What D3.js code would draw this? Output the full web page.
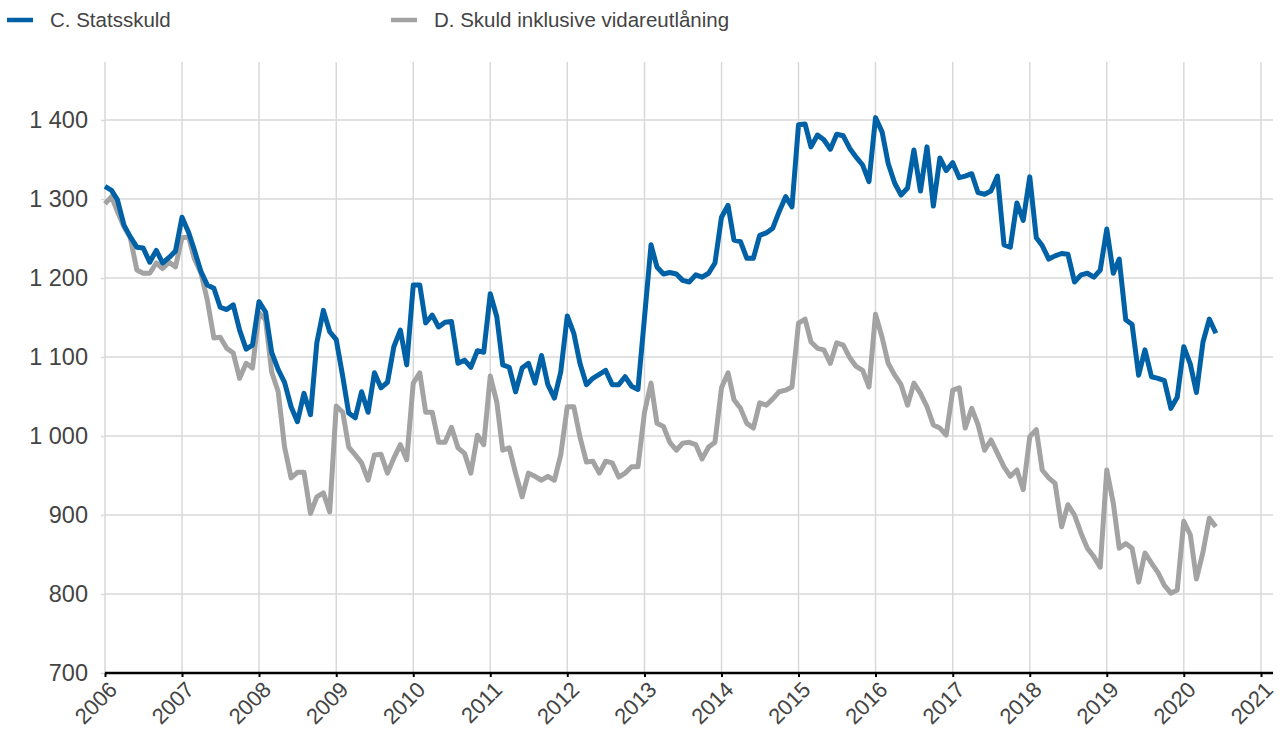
<!DOCTYPE html>
<html>
<head>
<meta charset="utf-8">
<script src="https://cdn.jsdelivr.net/npm/d3@7"></script>
<style>
  body { margin: 0; background: #fff; }
  svg { font-family: "Liberation Sans", Arial, sans-serif; }
</style>
</head>
<body>
<div id="chart"></div>
<script>
// Monthly values, Jan 2006 - Jun 2020
const startYear = 2006;
const statsskuld = [
  1316, 1311, 1299, 1267, 1252, 1239, 1238, 1220, 1235, 1219, 1226, 1234,
  1277, 1258, 1235, 1208, 1191, 1187, 1163, 1160, 1166, 1134, 1110, 1115,
  1170, 1157, 1106, 1084, 1068, 1037, 1018, 1054, 1027, 1118, 1159, 1132,
  1122, 1075, 1029, 1023, 1056, 1030, 1080, 1061, 1068, 1113, 1134, 1090,
  1191, 1191, 1143, 1153, 1138, 1144, 1145, 1092, 1096, 1087, 1108, 1106,
  1180, 1151, 1090, 1087, 1056, 1086, 1092, 1067, 1102, 1065, 1048, 1081,
  1152, 1130, 1092, 1065, 1073, 1078, 1083, 1065, 1065, 1075, 1063, 1059,
  1150, 1242, 1214, 1205, 1207, 1205, 1197, 1195, 1204, 1201, 1206, 1219,
  1277, 1292, 1248, 1246, 1225, 1225, 1254, 1257, 1263, 1284, 1303, 1290,
  1394, 1395, 1366, 1381, 1375, 1363, 1382, 1380, 1364, 1353, 1343, 1322,
  1403, 1385, 1345, 1320, 1305, 1314, 1362, 1310, 1366, 1291, 1352, 1336,
  1346, 1327, 1329, 1332, 1308, 1306, 1310, 1329, 1242, 1239, 1295, 1273,
  1328, 1251, 1241, 1224, 1228, 1231, 1230, 1195, 1204, 1206, 1201, 1210,
  1262, 1206, 1224, 1147, 1141, 1077, 1109, 1075, 1073, 1070, 1035, 1049,
  1113, 1091, 1055, 1119, 1148, 1130
];
const inklVidareutlaning = [
  1294, 1303, 1284, 1265, 1251, 1210, 1206, 1206, 1219, 1212, 1220, 1214,
  1251, 1252, 1224, 1206, 1172, 1124, 1125, 1111, 1105, 1073, 1092, 1086,
  1156, 1147, 1081, 1056, 986, 947, 954, 954, 902, 923, 928, 904,
  1038, 1030, 986, 976, 966, 944, 976, 977, 953, 972, 989, 970,
  1067, 1080, 1030, 1030, 992, 992, 1011, 985, 978, 953, 1001, 989,
  1076, 1043, 982, 985, 953, 923, 953, 949, 944, 949, 944, 976,
  1037, 1037, 999, 967, 968, 953, 968, 966, 948, 953, 961, 961,
  1030, 1067, 1016, 1012, 992, 982, 991, 992, 989, 971, 986, 992,
  1061, 1080, 1046, 1035, 1016, 1010, 1042, 1039, 1047, 1056, 1058, 1062,
  1143, 1148, 1119, 1111, 1109, 1092, 1118, 1115, 1099, 1088, 1083, 1062,
  1154, 1125, 1092, 1077, 1065, 1039, 1067, 1054, 1037, 1014, 1010, 1001,
  1058, 1061, 1010, 1035, 1014, 982, 995, 978, 961, 949, 957, 932,
  999, 1008, 957, 947, 940, 885, 913, 900, 877, 858, 847, 834,
  957, 915, 858, 864, 858, 815, 852, 839, 827, 811, 801, 805,
  892, 875, 819, 853, 896, 885
];
const yTicks = [700, 800, 900, 1000, 1100, 1200, 1300, 1400];
const xTickYears = d3.range(2006, 2022);
const seriesNames = ["C. Statsskuld", "D. Skuld inklusive vidareutlåning"];
const seriesColors = ["#0061a6", "#a3a3a3"];

const W = 1284, H = 729;
const plot = { left: 105, right: 1273, top: 62, bottom: 673 };

const svg = d3.select("#chart").append("svg")
  .attr("width", W)
  .attr("height", H);

// month index -> date
const toDate = i => new Date(startYear + Math.floor(i / 12), i % 12, 1);

const x = d3.scaleTime()
  .domain([new Date(2006, 0, 1), new Date(2021, 0, 1)])
  .range([105, 1261]);

const y = d3.scaleLinear()
  .domain([700, 1400])
  .range([673, 120]);

const fmt = v => d3.format(",")(v).replace(",", " ");

// horizontal grid + y labels
const yAxis = svg.append("g")
  .attr("transform", `translate(${plot.left},0)`)
  .call(d3.axisLeft(y).tickValues(yTicks).tickSize(4).tickFormat(fmt));
yAxis.select(".domain").remove();
yAxis.selectAll(".tick line").attr("stroke", "#d9d9d9").attr("stroke-width", 1.5);
yAxis.selectAll(".tick text")
  .attr("x", -17)
  .attr("fill", "#444")
  .style("font-size", "23.5px")
  .style("font-family", "Liberation Sans, Arial, sans-serif");

svg.append("g")
  .selectAll("line")
  .data(yTicks.filter(d => d > 700))
  .enter()
  .append("line")
  .attr("x1", plot.left)
  .attr("x2", plot.right)
  .attr("y1", d => y(d))
  .attr("y2", d => y(d))
  .attr("stroke", "#d9d9d9")
  .attr("stroke-width", 1.5);

// vertical grid
svg.append("g")
  .selectAll("line")
  .data(xTickYears)
  .enter()
  .append("line")
  .attr("x1", d => x(new Date(d, 0, 1)))
  .attr("x2", d => x(new Date(d, 0, 1)))
  .attr("y1", plot.top)
  .attr("y2", plot.bottom)
  .attr("stroke", "#d9d9d9")
  .attr("stroke-width", 1.5);

// lines (grey first so blue sits on top)
const line = d3.line()
  .x((d, i) => x(toDate(i)))
  .y(d => y(d));

[inklVidareutlaning, statsskuld].forEach((series, k) => {
  const color = k === 0 ? seriesColors[1] : seriesColors[0];
  svg.append("path")
    .datum(series)
    .attr("fill", "none")
    .attr("stroke", color)
    .attr("stroke-width", 5)
    .attr("stroke-linejoin", "round")
    .attr("d", line);
});

// x axis
const xAxis = svg.append("g")
  .attr("transform", `translate(0,${plot.bottom})`)
  .call(d3.axisBottom(x)
    .tickValues(xTickYears.map(d => new Date(d, 0, 1)))
    .tickSize(4)
    .tickFormat(d3.timeFormat("%Y")));
xAxis.select(".domain")
  .attr("d", `M${plot.left},0H${plot.right}`)
  .attr("stroke", "#000")
  .attr("stroke-width", 2.5);
xAxis.selectAll(".tick line").attr("stroke", "#000").attr("stroke-width", 2);
xAxis.selectAll(".tick text")
  .attr("fill", "#444")
  .style("font-size", "22px")
  .style("font-family", "Liberation Sans, Arial, sans-serif")
  .style("text-anchor", "end")
  .attr("dy", null)
  .attr("y", 0)
  .attr("transform", "translate(13,18) rotate(-45)");

// legend
const legend = svg.append("g");
const legendX = [7, 391];
seriesNames.forEach((name, i) => {
  legend.append("line")
    .attr("x1", legendX[i])
    .attr("x2", legendX[i] + 26)
    .attr("y1", 20)
    .attr("y2", 20)
    .attr("stroke", seriesColors[i])
    .attr("stroke-width", 4.5);
  legend.append("text")
    .attr("x", legendX[i] + 43)
    .attr("y", 27)
    .attr("fill", "#444")
    .style("font-size", "20.5px")
    .text(name);
});
</script>
</body>
</html>
